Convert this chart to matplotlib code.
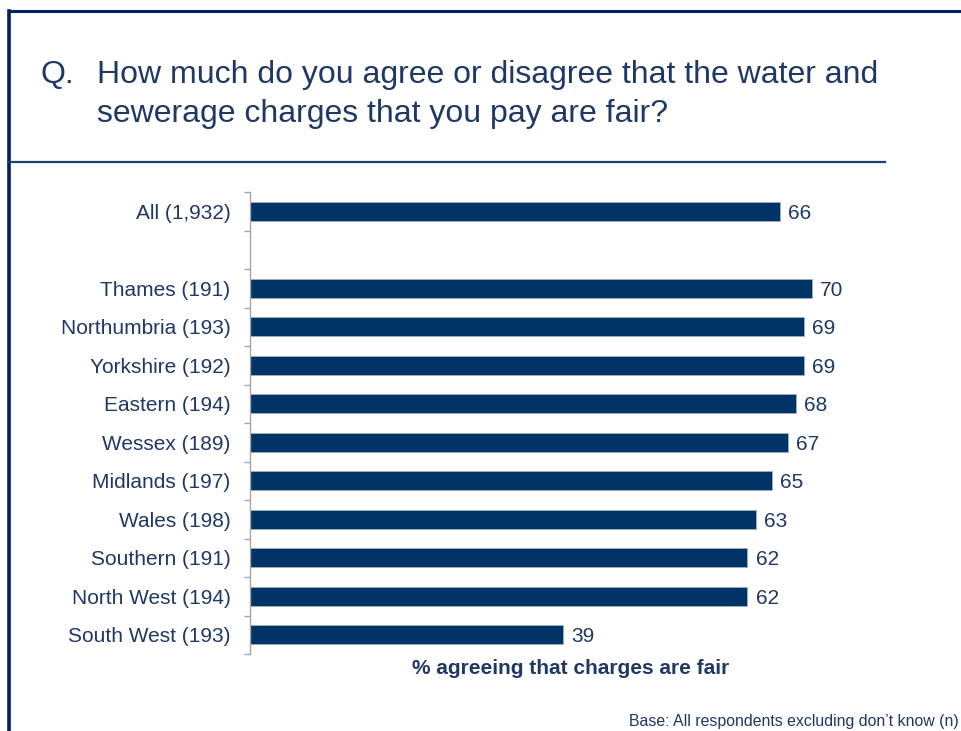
import matplotlib.pyplot as plt
from matplotlib.lines import Line2D
from matplotlib.ticker import FixedLocator

plt.rcParams["font.family"] = ["Liberation Sans", "DejaVu Sans"]

# Dados: % de concordância por região (n entre parênteses)
categorias = [
    "All (1,932)",
    "",
    "Thames (191)",
    "Northumbria (193)",
    "Yorkshire (192)",
    "Eastern (194)",
    "Wessex (189)",
    "Midlands (197)",
    "Wales (198)",
    "Southern (191)",
    "North West (194)",
    "South West (193)",
]
valores = [66, None, 70, 69, 69, 68, 67, 65, 63, 62, 62, 39]

titulo_l1 = "How much do you agree or disagree that the water and"
titulo_l2 = "sewerage charges that you pay are fair?"
rotulo_x = "% agreeing that charges are fair"
rodape = "Base: All respondents excluding don\u2019t know (n)"

cor_barra = "#003366"
cor_texto = "#1F3864"
cor_moldura = "#002060"

W, H = 961, 731
fig = plt.figure(figsize=(W / 100, H / 100), dpi=100)

# moldura: linha superior, linha esquerda e linha abaixo do título
fig.add_artist(Line2D([9 / W, 1], [1 - 11 / H] * 2, color=cor_moldura, lw=2.2))
fig.add_artist(Line2D([9 / W] * 2, [0, 1 - 11 / H], color=cor_moldura, lw=2.6))
fig.add_artist(Line2D([9 / W, 885 / W], [1 - 162 / H] * 2, color="#1F3F6E", lw=1.6))

# título
fig.text(40 / W, 1 - 83 / H, "Q.", fontsize=23, color=cor_texto, va="baseline")
fig.text(97 / W, 1 - 83 / H, titulo_l1, fontsize=23, color=cor_texto, va="baseline")
fig.text(97 / W, 1 - 122 / H, titulo_l2, fontsize=23, color=cor_texto, va="baseline")

# eixo do gráfico de barras
px_por_unidade = 8.024
xmax = 80
esq, topo, base = 250, 192, 654
ax = fig.add_axes([esq / W, 1 - base / H, xmax * px_por_unidade / W, (base - topo) / H])

pos = [i for i, v in enumerate(valores) if v is not None]
vals = [v for v in valores if v is not None]
ax.barh(pos, vals, height=0.5, color=cor_barra, edgecolor="#9DB0C8", linewidth=0.6)
for p, v in zip(pos, vals):
    ax.text(v + 1.0, p, str(v), va="center_baseline", ha="left", fontsize=15, color=cor_texto)

ax.set_xlim(0, xmax)
ax.set_ylim(len(categorias) - 0.5, -0.5)
ax.set_yticks(range(len(categorias)))
ax.set_yticklabels(categorias, fontsize=15, color=cor_texto)
ax.yaxis.set_minor_locator(FixedLocator([i - 0.5 for i in range(len(categorias) + 1)]))
ax.tick_params(axis="y", which="major", length=0, pad=14)
ax.tick_params(axis="y", which="minor", length=4.5, width=1, color="#A6A6A6")
ax.set_xticks([])
for lado in ["top", "right", "bottom"]:
    ax.spines[lado].set_visible(False)
ax.spines["left"].set_color("#A6A6A6")
ax.spines["left"].set_linewidth(1)

fig.text(571 / W, 1 - 668 / H, rotulo_x, fontsize=15, fontweight="bold",
         color=cor_texto, ha="center", va="center")
fig.text(959 / W, 2 / H, rodape, fontsize=11.4, color=cor_texto,
         ha="right", va="bottom")

fig.savefig("out.png", dpi=100)
